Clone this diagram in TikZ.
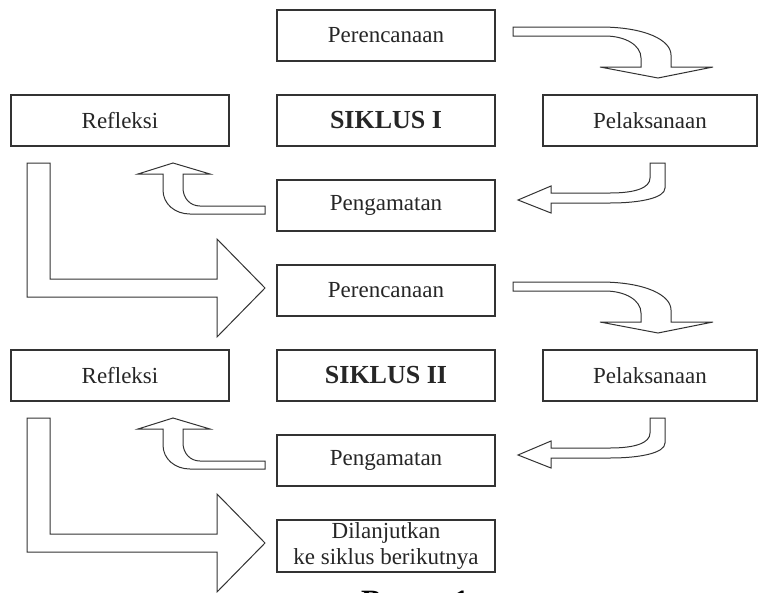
\documentclass[tikz,border=0pt]{standalone}
\usepackage{fontspec}
\setmainfont{Liberation Serif}

\begin{document}
\begin{tikzpicture}[
        x=1pt, y=-1pt,
        stepbox/.style={draw=black!80, line width=1.3pt, minimum width=218pt, minimum height=51pt,
                        inner sep=0pt, text=black!85, font=\fontsize{23}{27}\selectfont},
        titlebox/.style={stepbox, font=\fontsize{26}{30}\selectfont\bfseries},
        blockarrow/.style={draw=black!80, line width=1pt, fill=white, line join=miter}
    ]
    \useasboundingbox (0,0) rectangle (758,592);
    \clip (0,0) rectangle (758,592);

    % ---- Siklus I ----
    \node[stepbox] (per1) at (386, 35.5) {Perencanaan};
    \node[stepbox] (ref1) at (120,120.5) {Refleksi};
    \node[titlebox] (sik1) at (386,120.5) {SIKLUS I};
    \node[stepbox, minimum width=214pt] (pel1) at (650,120.5) {Pelaksanaan};
    \node[stepbox] (pen1) at (386,205.5) {Pengamatan};

    % perencanaan -> pelaksanaan
    \draw[blockarrow] (513,27) -- (600,27) .. controls (645,27) and (671,40) .. (671,55) -- (671,67)
        -- (713,67) -- (658,78) -- (600,67) -- (641,67) -- (641,58)
        .. controls (641,45) and (625,36) .. (605,36) -- (513,36) -- cycle;
    % pelaksanaan -> pengamatan
    \draw[blockarrow] (650,163) -- (665,163) -- (665,188) .. controls (665,198) and (640,203) .. (610,203)
        -- (551,203) -- (551,213) -- (518,200) -- (551,186) -- (551,193) -- (610,193)
        .. controls (635,193) and (650,188) .. (650,178) -- cycle;
    % pengamatan -> refleksi
    \draw[blockarrow] (265,206) -- (200,206) .. controls (190,206) and (183,198) .. (183,188) -- (183,174)
        -- (210,174) -- (173,163) -- (138,174) -- (163,174) -- (163,190)
        .. controls (163,204) and (175,214) .. (190,214) -- (265,214) -- cycle;
    % refleksi -> perencanaan (siklus II)
    \draw[blockarrow] (27,163) -- (50,163) -- (50,279) -- (217,279) -- (217,239) -- (265,288)
        -- (217,337) -- (217,297) -- (27,297) -- cycle;

    % ---- Siklus II ----
    \node[stepbox] (per2) at (386,290.5) {Perencanaan};
    \node[stepbox] (ref2) at (120,375.5) {Refleksi};
    \node[titlebox] (sik2) at (386,375.5) {SIKLUS II};
    \node[stepbox, minimum width=214pt] (pel2) at (650,375.5) {Pelaksanaan};
    \node[stepbox] (pen2) at (386,460.5) {Pengamatan};

    % same arrows, one cycle lower
    \draw[blockarrow, shift={(0,255)}] (513,27) -- (600,27) .. controls (645,27) and (671,40) .. (671,55) -- (671,67)
        -- (713,67) -- (658,78) -- (600,67) -- (641,67) -- (641,58)
        .. controls (641,45) and (625,36) .. (605,36) -- (513,36) -- cycle;
    \draw[blockarrow, shift={(0,255)}] (650,163) -- (665,163) -- (665,188) .. controls (665,198) and (640,203) .. (610,203)
        -- (551,203) -- (551,213) -- (518,200) -- (551,186) -- (551,193) -- (610,193)
        .. controls (635,193) and (650,188) .. (650,178) -- cycle;
    \draw[blockarrow, shift={(0,255)}] (265,206) -- (200,206) .. controls (190,206) and (183,198) .. (183,188) -- (183,174)
        -- (210,174) -- (173,163) -- (138,174) -- (163,174) -- (163,190)
        .. controls (163,204) and (175,214) .. (190,214) -- (265,214) -- cycle;
    \draw[blockarrow, shift={(0,255)}] (27,163) -- (50,163) -- (50,279) -- (217,279) -- (217,239) -- (265,288)
        -- (217,337) -- (217,297) -- (27,297) -- cycle;

    % ---- Lanjut dan judul ----
    \node[stepbox, minimum height=52pt, align=center, font=\fontsize{23}{26}\selectfont] (lanjut) at (386,546)
        {Dilanjutkan\\ke siklus berikutnya};
    \node[anchor=base, font=\fontsize{31}{36}\selectfont\bfseries] (judul) at (415,611) {Bagan 1};

\end{tikzpicture}
\end{document}
